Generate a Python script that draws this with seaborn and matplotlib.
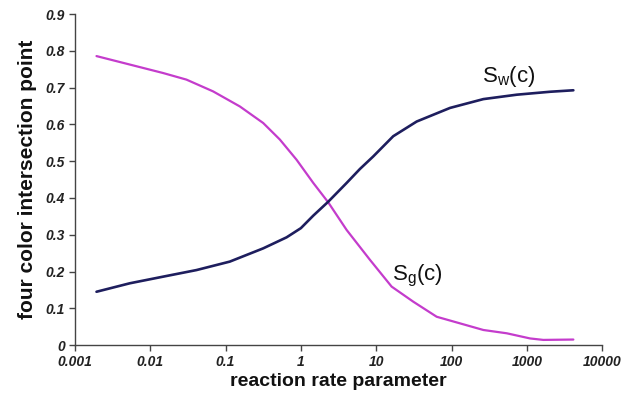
import matplotlib
matplotlib.use("Agg")
import matplotlib.pyplot as plt
import seaborn as sns
import pandas as pd

sns.set_theme(style="white")
plt.rcParams['font.family'] = ['Liberation Sans', 'DejaVu Sans']
plt.rcParams['mathtext.fontset'] = 'custom'
plt.rcParams['mathtext.rm'] = 'Liberation Sans'
plt.rcParams['mathtext.it'] = 'Liberation Sans'

# S_w(c) curve
sw_x = [0.00194, 0.00536, 0.0148, 0.0412, 0.114, 0.316, 0.646, 1.0, 1.46, 2.31, 4.05, 6.08, 9.12, 16.8, 34.4, 95.3, 264.0, 733.0, 2030.0, 4130.0]
sw_y = [0.145, 0.168, 0.186, 0.204, 0.227, 0.263, 0.293, 0.318, 0.352, 0.390, 0.441, 0.479, 0.513, 0.568, 0.608, 0.645, 0.669, 0.681, 0.689, 0.693]

# S_g(c) curve
sg_x = [0.00194, 0.00536, 0.0148, 0.0303, 0.0684, 0.155, 0.316, 0.526, 0.877, 1.46, 2.31, 4.05, 8.24, 16.0, 31.0, 63.4, 264.0, 540.0, 1100.0, 1650.0, 4130.0]
sg_y = [0.786, 0.763, 0.740, 0.722, 0.690, 0.649, 0.604, 0.559, 0.504, 0.441, 0.388, 0.313, 0.232, 0.159, 0.118, 0.077, 0.041, 0.032, 0.018, 0.014, 0.015]

x_ticks = [0.001, 0.01, 0.1, 1, 10, 100, 1000, 10000]
x_ticklabels = ["0.001", "0.01", "0.1", "1", "10", "100", "1000", "10000"]
y_ticks = [0, 0.1, 0.2, 0.3, 0.4, 0.5, 0.6, 0.7, 0.8, 0.9]
y_ticklabels = ["0", "0.1", "0.2", "0.3", "0.4", "0.5", "0.6", "0.7", "0.8", "0.9"]

navy = "#1e1e5e"
magenta = "#c43ccc"

fig = plt.figure(figsize=(6.34, 4.05), dpi=100)
ax = fig.add_axes([0.118, 0.148, 0.832, 0.817])

df_w = pd.DataFrame({"x": sw_x, "y": sw_y})
df_g = pd.DataFrame({"x": sg_x, "y": sg_y})
sns.lineplot(data=df_g, x="x", y="y", ax=ax, color=magenta, lw=1.6, sort=False)
sns.lineplot(data=df_w, x="x", y="y", ax=ax, color=navy, lw=1.9, sort=False)

ax.set_xscale("log")
ax.set_xlim(0.001, 10000)
ax.set_ylim(0, 0.9)
ax.set_xticks(x_ticks)
ax.set_xticklabels(x_ticklabels)
ax.set_yticks(y_ticks)
ax.set_yticklabels(y_ticklabels)
ax.xaxis.set_minor_locator(matplotlib.ticker.NullLocator())

for lab in ax.get_xticklabels() + ax.get_yticklabels():
    lab.set_fontweight("bold")
    lab.set_fontstyle("italic")
    lab.set_fontsize(10)
    lab.set_color("#222222")

ax.tick_params(axis="both", which="major", direction="out", length=4, width=1, color="#444444", pad=3, bottom=True, left=True)
sns.despine(ax=ax)
for s in ["left", "bottom"]:
    ax.spines[s].set_color("#444444")
    ax.spines[s].set_linewidth(1.0)

ax.set_xlabel("reaction rate parameter", fontsize=14, fontweight="bold", color="#111111", labelpad=3)
ax.set_ylabel("four color intersection point", fontsize=15, fontweight="bold", color="#111111", labelpad=6)

ax.text(253, 0.716, r"$\mathregular{S_w(c)}$", fontsize=16, color="#111111", ha="left", va="baseline")
ax.text(16.0, 0.177, r"$\mathregular{S_g(c)}$", fontsize=16, color="#111111", ha="left", va="baseline")

fig.savefig("out.png", dpi=100, facecolor="white")
